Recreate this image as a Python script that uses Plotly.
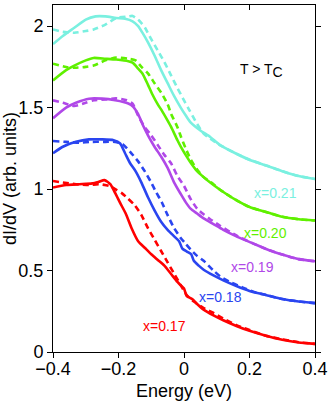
import plotly.graph_objects as go

# energy (eV) / dI/dV (arb. units), solid and dashed per doping
e_17 = [-0.40, -0.36, -0.32, -0.28, -0.26, -0.243, -0.225, -0.21, -0.195, -0.178, -0.16, -0.14, -0.12, -0.10,
        -0.08, -0.06, -0.04, -0.02, -0.008, 0.0, 0.008, 0.025, 0.04, 0.06, 0.09, 0.12, 0.16, 0.20, 0.25, 0.30, 0.35, 0.40]
s_17 = [1.01, 1.025, 1.03, 1.035, 1.045, 1.055, 1.03, 0.975, 0.915, 0.85, 0.76, 0.68, 0.64, 0.60,
        0.565, 0.53, 0.48, 0.43, 0.405, 0.39, 0.345, 0.325, 0.295, 0.26, 0.225, 0.195, 0.16, 0.13, 0.10, 0.075, 0.058, 0.05]
ed_17 = [-0.40, -0.37, -0.33, -0.29, -0.26, -0.23, -0.21, -0.19, -0.17, -0.15, -0.13, -0.11, -0.09, -0.07,
         -0.05, -0.03, -0.01, 0.01, 0.03, 0.06, 0.09, 0.12, 0.16, 0.20, 0.25, 0.30, 0.35, 0.40]
d_17 = [1.05, 1.04, 1.03, 1.025, 1.03, 1.02, 1.0, 0.975, 0.94, 0.90, 0.84, 0.76, 0.69, 0.62,
        0.55, 0.48, 0.41, 0.345, 0.31, 0.27, 0.24, 0.205, 0.165, 0.135, 0.10, 0.078, 0.06, 0.05]

e_18 = [-0.40, -0.37, -0.33, -0.29, -0.25, -0.215, -0.195, -0.18, -0.165, -0.148, -0.13, -0.11, -0.09, -0.07,
        -0.05, -0.03, -0.015, -0.005, 0.01, 0.022, 0.03, 0.045, 0.06, 0.09, 0.12, 0.16, 0.20, 0.25, 0.30, 0.35, 0.40]
s_18 = [1.22, 1.26, 1.29, 1.305, 1.305, 1.30, 1.28, 1.22, 1.16, 1.11, 1.04, 0.95, 0.87, 0.80,
        0.75, 0.71, 0.68, 0.635, 0.615, 0.60, 0.56, 0.53, 0.505, 0.47, 0.44, 0.405, 0.375, 0.35, 0.325, 0.31, 0.30]
ed_18 = [-0.40, -0.36, -0.32, -0.28, -0.24, -0.21, -0.187, -0.165, -0.14, -0.12, -0.10, -0.085, -0.068, -0.05,
         -0.03, -0.01, 0.005, 0.02, 0.04, 0.06, 0.09, 0.11, 0.14, 0.18, 0.22, 0.26, 0.30, 0.35, 0.40]
d_18 = [1.295, 1.29, 1.285, 1.29, 1.29, 1.29, 1.275, 1.23, 1.17, 1.11, 1.04, 0.98, 0.92, 0.84,
        0.76, 0.70, 0.665, 0.63, 0.59, 0.56, 0.50, 0.465, 0.43, 0.395, 0.365, 0.345, 0.325, 0.31, 0.30]

e_19 = [-0.40, -0.36, -0.33, -0.29, -0.25, -0.21, -0.17, -0.155, -0.14, -0.125, -0.11, -0.09, -0.07, -0.05,
        -0.03, -0.01, 0.005, 0.02, 0.04, 0.06, 0.09, 0.12, 0.16, 0.207, 0.26, 0.305, 0.35, 0.40]
s_19 = [1.435, 1.50, 1.53, 1.555, 1.555, 1.545, 1.525, 1.505, 1.46, 1.39, 1.33, 1.26, 1.20, 1.13,
        1.04, 0.97, 0.92, 0.88, 0.85, 0.82, 0.785, 0.75, 0.71, 0.67, 0.625, 0.595, 0.57, 0.557]
ed_19 = [-0.40, -0.37, -0.335, -0.30, -0.276, -0.24, -0.207, -0.175, -0.157, -0.14, -0.12, -0.10, -0.08, -0.06,
         -0.04, -0.02, 0.0, 0.02, 0.04, 0.06, 0.08, 0.11, 0.16, 0.207, 0.26, 0.305, 0.35, 0.40]
d_19 = [1.545, 1.53, 1.51, 1.53, 1.545, 1.55, 1.557, 1.545, 1.525, 1.45, 1.38, 1.33, 1.27, 1.21,
        1.16, 1.08, 1.02, 0.94, 0.88, 0.845, 0.815, 0.775, 0.715, 0.67, 0.625, 0.595, 0.57, 0.557]

e_20 = [-0.40, -0.36, -0.335, -0.30, -0.276, -0.24, -0.207, -0.17, -0.157, -0.14, -0.127, -0.11, -0.098, -0.08,
        -0.068, -0.05, -0.039, -0.02, -0.009, 0.005, 0.021, 0.04, 0.059, 0.08, 0.11, 0.157, 0.20, 0.258, 0.30, 0.35, 0.40]
s_20 = [1.667, 1.73, 1.758, 1.79, 1.805, 1.80, 1.795, 1.785, 1.776, 1.74, 1.71, 1.64, 1.587, 1.52,
        1.483, 1.42, 1.38, 1.30, 1.258, 1.21, 1.16, 1.11, 1.075, 1.04, 0.996, 0.935, 0.89, 0.855, 0.83, 0.815, 0.807]
ed_20 = [-0.40, -0.36, -0.335, -0.30, -0.276, -0.24, -0.207, -0.17, -0.148, -0.13, -0.11, -0.09, -0.068, -0.05,
         -0.039, -0.02, -0.009, 0.005, 0.021, 0.04, 0.059, 0.09, 0.11, 0.157, 0.20, 0.258, 0.30, 0.35, 0.40]
d_20 = [1.77, 1.75, 1.745, 1.75, 1.758, 1.79, 1.808, 1.80, 1.79, 1.75, 1.71, 1.65, 1.587, 1.52,
        1.46, 1.38, 1.32, 1.25, 1.18, 1.12, 1.075, 1.03, 0.996, 0.935, 0.89, 0.855, 0.83, 0.815, 0.807]

e_21 = [-0.40, -0.37, -0.335, -0.30, -0.27, -0.24, -0.207, -0.18, -0.157, -0.14, -0.127, -0.11, -0.09, -0.07,
        -0.05, -0.03, -0.01, 0.006, 0.02, 0.05, 0.08, 0.11, 0.157, 0.20, 0.258, 0.30, 0.35, 0.40]
s_21 = [1.89, 1.94, 1.99, 2.04, 2.06, 2.06, 2.05, 2.045, 2.03, 2.0, 1.96, 1.90, 1.82, 1.73,
        1.65, 1.57, 1.50, 1.45, 1.41, 1.36, 1.32, 1.27, 1.22, 1.18, 1.14, 1.11, 1.08, 1.062]
ed_21 = [-0.40, -0.37, -0.335, -0.30, -0.276, -0.24, -0.207, -0.17, -0.157, -0.135, -0.119, -0.10, -0.08, -0.06,
         -0.04, -0.02, 0.0, 0.015, 0.04, 0.06, 0.08, 0.11, 0.157, 0.20, 0.258, 0.30, 0.35, 0.40]
d_21 = [1.98, 1.965, 1.96, 1.97, 1.98, 2.01, 2.05, 2.06, 2.063, 2.03, 1.99, 1.92, 1.85, 1.78,
        1.70, 1.62, 1.545, 1.49, 1.40, 1.34, 1.31, 1.27, 1.22, 1.18, 1.14, 1.11, 1.08, 1.062]

labels = ["x=0.17", "x=0.18", "x=0.19", "x=0.20", "x=0.21"]
colors = ["#ff0000", "#2a45f0", "#b048e8", "#5ff000", "#7af0e0"]
label_x = [-0.059, 0.111, 0.209, 0.25, 0.279]
label_y = [0.16, 0.337, 0.52, 0.733, 0.977]
x_ticks = [-0.4, -0.2, 0, 0.2, 0.4]
y_ticks = [0, 0.5, 1, 1.5, 2]

series = [(e_17, s_17, ed_17, d_17), (e_18, s_18, ed_18, d_18), (e_19, s_19, ed_19, d_19),
          (e_20, s_20, ed_20, d_20), (e_21, s_21, ed_21, d_21)]

fig = go.Figure()
for (es, vs, ed, vd), c, name in zip(series, colors, labels):
    fig.add_trace(go.Scatter(x=es, y=vs, mode="lines", name=name,
                             line=dict(color=c, width=2.6, shape="spline", smoothing=0.6)))
    fig.add_trace(go.Scatter(x=ed, y=vd, mode="lines", name=name + " dashed",
                             line=dict(color=c, width=2.6, dash="6px,4px", shape="spline", smoothing=0.6)))

for t, c, lx, ly in zip(labels, colors, label_x, label_y):
    fig.add_annotation(x=lx, y=ly, text=t, showarrow=False, font=dict(color=c, size=14))

# T > T_C, subscript kept near full size as in the reference
fig.add_annotation(x=0.237, y=1.73, text="T > T<sub><span style='font-size:14px'>C</span></sub>",
                   showarrow=False, font=dict(color="black", size=14))

fig.update_layout(
    width=332, height=401,
    margin=dict(l=45, r=17, t=4, b=48),
    plot_bgcolor="white", paper_bgcolor="white",
    font=dict(family="Liberation Sans, Arial, sans-serif", color="black"),
    showlegend=False,
    # labels and box; tick marks come from the two overlay axes
    xaxis=dict(range=[-0.4, 0.4], tickvals=x_ticks, showline=True, linecolor="black", linewidth=1,
               mirror=True, ticks="", showgrid=False, zeroline=False,
               tickfont=dict(size=18, color="black"),
               title=dict(text="Energy (eV)", font=dict(size=18), standoff=6)),
    xaxis2=dict(range=[-0.4, 0.4], tickvals=x_ticks, overlaying="x", side="top", showline=False,
                ticks="inside", ticklen=5, tickcolor="black", showticklabels=False,
                showgrid=False, zeroline=False),
    xaxis3=dict(range=[-0.4, 0.4], tickvals=x_ticks, overlaying="x", side="bottom", showline=False,
                ticks="outside", ticklen=5, tickcolor="black", showticklabels=False,
                showgrid=False, zeroline=False),
    yaxis=dict(range=[0, 2.13], tickvals=y_ticks, showline=True, linecolor="black", linewidth=1,
               mirror="allticks", ticks="outside", ticklen=5, tickcolor="black", showgrid=False,
               zeroline=False, tickfont=dict(size=18, color="black"),
               title=dict(text="dI/dV (arb. units)", font=dict(size=18), standoff=2)),
)
# empty traces so the overlay axes are drawn
fig.add_trace(go.Scatter(x=[None], y=[None], xaxis="x2", showlegend=False, hoverinfo="skip"))
fig.add_trace(go.Scatter(x=[None], y=[None], xaxis="x3", showlegend=False, hoverinfo="skip"))

fig.write_html("out.html", config={"displayModeBar": False},
               post_script="document.body.style.margin='0';")
